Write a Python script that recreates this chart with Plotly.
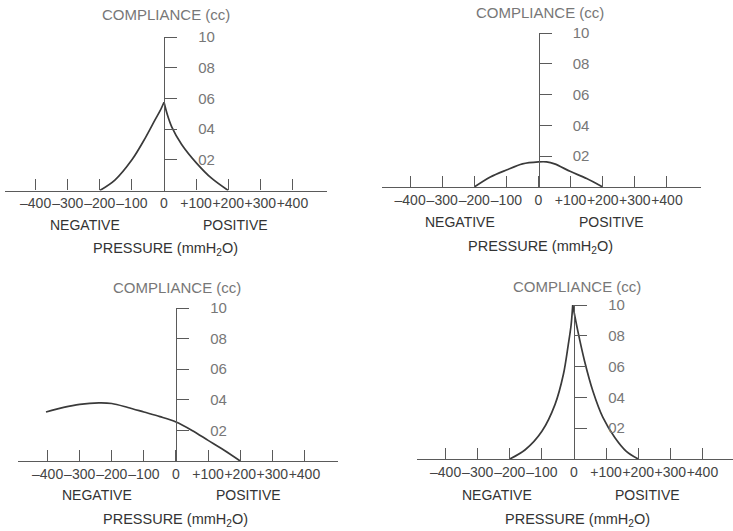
import plotly.graph_objects as go

W, H = 733, 531

# ---------------- data ----------------
pressure_ticks = [-400, -300, -200, -100, 0, 100, 200, 300, 400]
pressure_labels = ["–400", "–300", "–200", "–100", "0", "+100", "+200", "+300", "+400"]
compliance_ticks = [0.2, 0.4, 0.6, 0.8, 1.0]
compliance_labels = ["02", "04", "06", "08", "10"]

# panel 1 (top-left): peaked, normal
p1_left_x = [-200, -153, -100, -59, -28, -12, 0]
p1_left_y = [0.0, 0.068, 0.20, 0.34, 0.46, 0.52, 0.575]
p1_right_x = [0, 11, 24, 55, 102, 148, 200]
p1_right_y = [0.575, 0.49, 0.415, 0.30, 0.177, 0.08, 0.0]

# panel 2 (top-right): shallow
p2_x = [-200, -150, -100, -50, 0, 25, 50, 100, 150, 200]
p2_y = [0.0, 0.065, 0.11, 0.15, 0.163, 0.163, 0.15, 0.10, 0.055, 0.0]

# panel 3 (bottom-left): negative pressure
p3_x = [-405, -350, -300, -240, -200, -150, -100, -50, 0, 50, 100, 150, 200]
p3_y = [0.32, 0.35, 0.37, 0.38, 0.376, 0.35, 0.32, 0.29, 0.255, 0.20, 0.135, 0.07, 0.0]

# panel 4 (bottom-right): very high peak
p4_left_x = [-200, -152, -100, -59, -33, -18, -9, -4]
p4_left_y = [0.0, 0.06, 0.18, 0.355, 0.55, 0.74, 0.87, 1.0]
p4_right_x = [-4, 12, 33, 59, 90, 127, 163, 200]
p4_right_y = [1.0, 0.83, 0.635, 0.44, 0.27, 0.14, 0.05, 0.0]

# ---------------- geometry (pixels) ----------------
panels = [
    dict(zero=164.0, base=190.5, top=37.0, xmin=-495, xmax=508, k=0.321),
    dict(zero=538.5, base=187.0, top=33.0, xmin=-489, xmax=505, k=0.321),
    dict(zero=176.0, base=461.0, top=308.0, xmin=-492, xmax=505, k=0.321),
    dict(zero=574.0, base=459.0, top=305.0, xmin=-490, xmax=495, k=0.321),
]

FONT = "Liberation Sans, Arial, sans-serif"
CURVE = "#3a3a3a"
AXIS = "#5a5a5a"

fx = lambda px: px / W
fy = lambda py: 1 - py / H

fig = go.Figure()

curves = [
    [(p1_left_x, p1_left_y), (p1_right_x, p1_right_y)],
    [(p2_x, p2_y)],
    [(p3_x, p3_y)],
    [(p4_left_x, p4_left_y), (p4_right_x, p4_right_y)],
]

layout = dict(
    width=W, height=H, autosize=False,
    margin=dict(l=0, r=0, t=0, b=0, pad=0),
    paper_bgcolor="white", plot_bgcolor="white",
    showlegend=False,
    font=dict(family=FONT, size=14, color="#444"),
)
annotations = []

label_pos = [
    dict(comp=(166, 15), neg=(85, 225), pos=(235, 225), pres=(165, 249)),
    dict(comp=(540, 12), neg=(460, 222), pos=(611, 222), pres=(540, 247)),
    dict(comp=(177, 287), neg=(97, 495), pos=(248, 495), pres=(175, 520)),
    dict(comp=(577, 286), neg=(497, 495), pos=(647, 495), pres=(577, 520)),
]

for i, p in enumerate(panels):
    n = "" if i == 0 else str(i + 1)
    x0 = p["zero"] + p["xmin"] * p["k"]
    x1 = p["zero"] + p["xmax"] * p["k"]
    layout["xaxis" + n] = dict(
        domain=[fx(x0), min(fx(x1), 1.0)],
        range=[p["xmin"], p["xmax"]],
        anchor="y" + n, automargin=False,
        showgrid=False, zeroline=False,
        showline=True, linecolor=AXIS, linewidth=1.3,
        ticks="inside", ticklen=11, tickwidth=1.3, tickcolor=AXIS,
        tickvals=pressure_ticks, ticktext=pressure_labels,
        tickangle=0,
        tickfont=dict(family=FONT, size=14, color="#444444"),
        fixedrange=True,
    )
    layout["yaxis" + n] = dict(
        domain=[fy(p["base"]), fy(p["top"])],
        range=[0, 1.0],
        anchor="free", position=fx(p["zero"]), side="right", automargin=False,
        showgrid=False, zeroline=False,
        showline=True, linecolor=AXIS, linewidth=1.3,
        ticks="outside", ticklen=12, tickwidth=1.3, tickcolor=AXIS,
        tickvals=compliance_ticks, ticktext=compliance_labels,
        tickfont=dict(family=FONT, size=15, color="#777777"),
        ticklabelstandoff=18,
        fixedrange=True,
    )
    for cx, cy in curves[i]:
        fig.add_trace(go.Scatter(
            x=cx, y=cy, mode="lines",
            line=dict(color=CURVE, width=1.7, shape="spline", smoothing=0.9),
            xaxis="x" + n, yaxis="y" + n, hoverinfo="skip",
        ))
    lp = label_pos[i]
    annotations += [
        dict(text="COMPLIANCE (cc)", x=fx(lp["comp"][0]), y=fy(lp["comp"][1]),
             font=dict(color="#777777", size=15)),
        dict(text="NEGATIVE", x=fx(lp["neg"][0]), y=fy(lp["neg"][1]),
             font=dict(color="#333333", size=14)),
        dict(text="POSITIVE", x=fx(lp["pos"][0]), y=fy(lp["pos"][1]),
             font=dict(color="#333333", size=14)),
        dict(text="PRESSURE (mmH<sub>2</sub>O)", x=fx(lp["pres"][0]), y=fy(lp["pres"][1]),
             font=dict(color="#333333", size=14.5)),
    ]

for a in annotations:
    a.update(xref="paper", yref="paper", showarrow=False,
             xanchor="center", yanchor="middle")
layout["annotations"] = annotations

fig.update_layout(**layout)
fig.write_html(
    "out.html",
    config={"displayModeBar": False},
    post_script="document.body.style.margin='0';document.body.style.padding='0';",
)
